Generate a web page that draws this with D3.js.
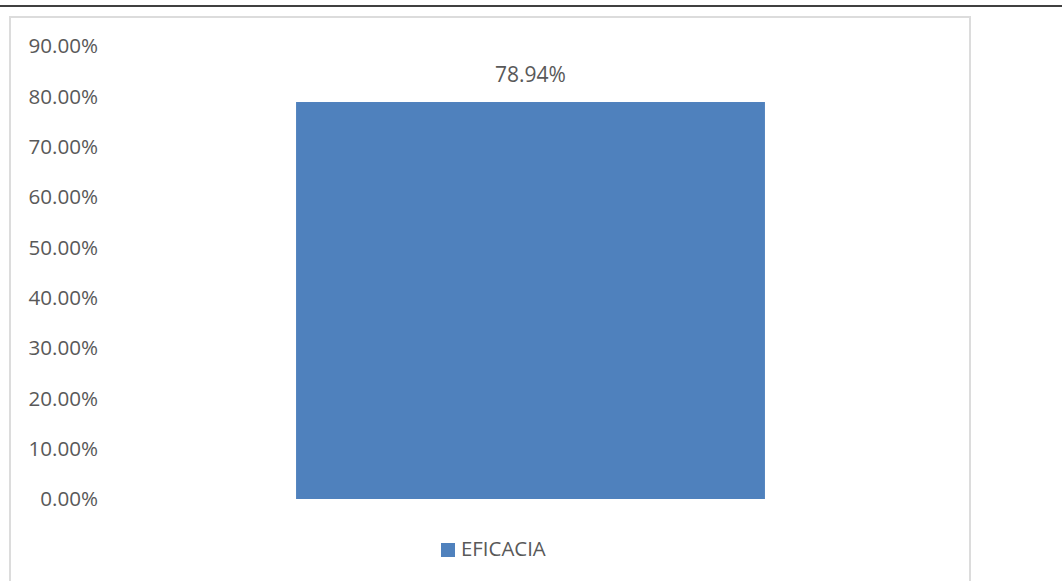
<!DOCTYPE html>
<html>
<head>
<meta charset="utf-8">
<script src="https://cdn.jsdelivr.net/npm/d3@7"></script>
<style>
  html, body { margin: 0; padding: 0; background: #ffffff; }
  svg { display: block; }
  text { font-family: "Open Sans", "Noto Sans", sans-serif; fill: #595959; }
</style>
</head>
<body>
<svg id="chart" width="1062" height="581"></svg>
<script>
// Chart data
const categories = ["EFICACIA"];
const values = [0.7894];
const yTicks = [0, 0.1, 0.2, 0.3, 0.4, 0.5, 0.6, 0.7, 0.8, 0.9];
const seriesName = "EFICACIA";

const W = 1062, H = 581;
const svg = d3.select("#chart");
const barColor = "#4f81bd";

// Page rule along the top
svg.append("rect").attr("x", 0).attr("y", 5).attr("width", W).attr("height", 2).attr("fill", "#404040");

// Chart frame
svg.append("path")
  .attr("d", `M10,${H + 2} L10,17 L970,17 L970,${H + 2}`)
  .attr("fill", "none")
  .attr("stroke", "#dcdcdc")
  .attr("stroke-width", 2);

// Plot area
const plot = { left: 105, right: 956, top: 46.4, bottom: 499 };

const y = d3.scaleLinear().domain([0, 0.9]).range([plot.bottom, plot.top]);
const x = d3.scaleBand().domain(categories).range([plot.left, plot.right])
  .paddingInner(0.2895).paddingOuter(0.2895);

// Value axis labels
const yAxis = d3.axisLeft(y).tickValues(yTicks).tickFormat(d3.format(".2%")).tickSize(0).tickPadding(0);
const gy = svg.append("g").attr("transform", `translate(98,0)`).call(yAxis);
gy.select(".domain").remove();
gy.selectAll("text").attr("font-size", 20.6).attr("fill", "#595959")
  .attr("font-family", "\"Open Sans\", \"Noto Sans\", sans-serif");

// Bars
svg.selectAll("rect.bar").data(values).join("rect")
  .attr("class", "bar")
  .attr("x", (d, i) => x(categories[i]))
  .attr("y", d => y(d))
  .attr("width", x.bandwidth())
  .attr("height", d => y(0) - y(d))
  .attr("fill", barColor);

// Data labels
svg.selectAll("text.lbl").data(values).join("text")
  .attr("class", "lbl")
  .attr("x", (d, i) => x(categories[i]) + x.bandwidth() / 2)
  .attr("y", d => y(d) - 26)
  .attr("text-anchor", "middle")
  .attr("dominant-baseline", "middle")
  .attr("font-size", 21)
  .attr("fill", "#404040")
  .text(d => d3.format(".2%")(d));

// Legend
const lg = svg.append("g").attr("transform", "translate(441,543)");
lg.append("rect").attr("width", 14).attr("height", 14).attr("fill", barColor);
lg.append("text").attr("x", 20).attr("y", 7.5)
  .attr("dominant-baseline", "middle")
  .attr("font-size", 20.4)
  .text(seriesName);
</script>
</body>
</html>
